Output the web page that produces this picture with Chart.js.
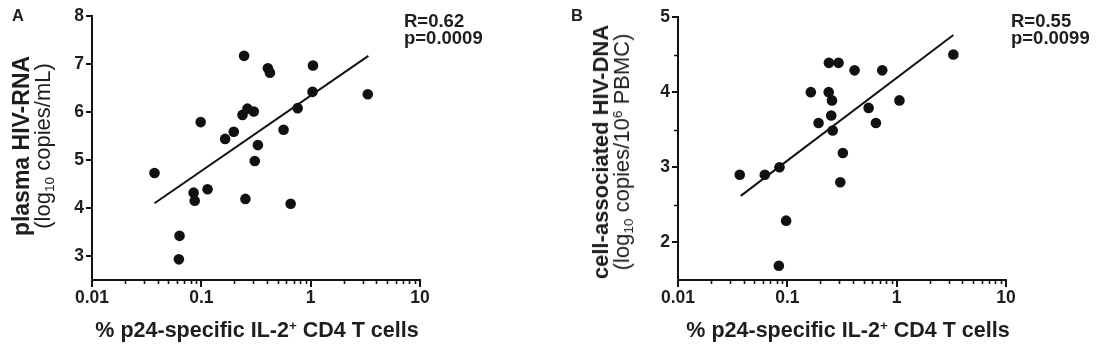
<!DOCTYPE html>
<html>
<head>
<meta charset="utf-8">
<script src="https://cdn.jsdelivr.net/npm/chart.js@4.4.1/dist/chart.umd.min.js"></script>
<style>
  body { margin: 0; background: #fff; width: 1097px; height: 348px; overflow: hidden; position: relative;
         font-family: "Liberation Sans", Arial, sans-serif; color: #1e1e1e; }
  canvas { position: absolute; top: 0; }
  .txt { position: absolute; white-space: nowrap; line-height: 1; font-weight: bold; }
  .stat { font-size: 18.5px; line-height: 16.5px; }
  .xtitle { font-size: 21.5px; transform: translateX(-50%); }
  .ytitle { position: absolute; white-space: nowrap; text-align: center; font-size: 22px; line-height: 21px;
            transform: translate(-50%, -50%) rotate(-90deg); }
  .ytitle b { font-weight: bold; }
  sub { font-size: 0.62em; vertical-align: -0.3em; line-height: 0; }
  sup { font-size: 0.62em; vertical-align: 0.5em; line-height: 0; }
</style>
</head>
<body>
<canvas id="chartA" width="548" height="348" style="left:0"></canvas>
<canvas id="chartB" width="549" height="348" style="left:548px"></canvas>

<div class="txt" style="left:12px;top:7px;font-size:16.5px">A</div>
<div class="txt" style="left:571px;top:7px;font-size:16.5px">B</div>

<div class="txt stat" style="left:404px;top:13px">R=0.62<br>p=0.0009</div>
<div class="txt stat" style="left:1011px;top:13px">R=0.55<br>p=0.0099</div>

<div class="txt xtitle" style="left:257px;top:320px">% p24-specific IL-2<sup>+</sup> CD4 T cells</div>
<div class="txt xtitle" style="left:848px;top:320px">% p24-specific IL-2<sup>+</sup> CD4 T cells</div>

<div class="ytitle" style="left:32px;top:146px"><b style="font-size:23px">plasma HIV-RNA</b><br>(log<sub>10</sub> copies/mL)</div>
<div class="ytitle" style="left:611px;top:152px"><b>cell-associated HIV-DNA</b><br>(log<sub>10</sub> copies/10<sup>6</sup> PBMC)</div>

<script>
// ---- x axis (shared) ----
const xMajorTicks = [0.01, 0.1, 1, 10];
const xMinorTicks = [0.02, 0.03, 0.04, 0.05, 0.06, 0.07, 0.08, 0.09,
                     0.2, 0.3, 0.4, 0.5, 0.6, 0.7, 0.8, 0.9,
                     2, 3, 4, 5, 6, 7, 8, 9];

// ---- panel A: plasma HIV-RNA ----
const plasmaX = [0.0373, 0.0986, 0.165, 0.198, 0.246, 0.238, 0.264, 0.302, 0.329, 0.308, 0.406, 0.424,
                 0.565, 0.760, 1.05, 1.04, 3.33, 0.085, 0.087, 0.114, 0.253, 0.656, 0.0632, 0.0623];
const plasmaY = [4.73, 5.79, 5.44, 5.59, 7.17, 5.94, 6.07, 6.01, 5.31, 4.98, 6.91, 6.82,
                 5.63, 6.08, 6.97, 6.42, 6.37, 4.32, 4.15, 4.39, 4.19, 4.09, 3.42, 2.93];
const plasmaFitX = [0.0373, 3.37];
const plasmaFitY = [4.10, 7.17];
const plasmaYTicks = [3, 4, 5, 6, 7, 8];

// ---- panel B: cell-associated HIV-DNA ----
const dnaX = [0.0367, 0.0622, 0.0848, 0.164, 0.193, 0.240, 0.294, 0.239, 0.256, 0.252, 0.260,
              0.322, 0.412, 0.554, 0.646, 0.738, 1.06, 3.30, 0.305, 0.0975, 0.0836];
const dnaY = [2.90, 2.90, 3.00, 4.00, 3.59, 4.39, 4.39, 4.00, 3.89, 3.69, 3.49,
              3.19, 4.29, 3.79, 3.59, 4.29, 3.89, 4.50, 2.80, 2.29, 1.69];
const dnaFitX = [0.0375, 3.30];
const dnaFitY = [2.62, 4.76];
const dnaYTicks = [2, 3, 4, 5];
const dnaYMinor = [2.5, 3.5, 4.5];

const INK = "#111";
const TEXT = "#1e1e1e";

// short tick marks that Chart.js can't size differently
const minorTicks = {
  id: "minorTicks",
  afterDraw(chart, args, opts) {
    const { ctx } = chart;
    const xs = chart.scales.x, ys = chart.scales.y;
    ctx.save();
    ctx.strokeStyle = INK;
    ctx.lineWidth = 1.6;
    ctx.beginPath();
    (opts.x || []).forEach(v => {
      const px = Math.round(xs.getPixelForValue(v)) + 0.5;
      ctx.moveTo(px, chart.chartArea.bottom);
      ctx.lineTo(px, chart.chartArea.bottom + 4);
    });
    (opts.y || []).forEach(v => {
      const py = Math.round(ys.getPixelForValue(v)) + 0.5;
      ctx.moveTo(chart.chartArea.left, py);
      ctx.lineTo(chart.chartArea.left - 4, py);
    });
    ctx.stroke();
    ctx.restore();
  }
};

function makePanel(id, xs, ys, fitX, fitY, yMin, yMax, yTicks, yMinor, area) {
  const canvas = document.getElementById(id);
  const W = canvas.width, H = canvas.height;
  const tickFont = { family: "Liberation Sans", weight: "bold", size: 17.5 };

  return new Chart(canvas.getContext("2d"), {
    type: "scatter",
    data: {
      datasets: [
        {
          data: xs.map((x, i) => ({ x: x, y: ys[i] })),
          pointRadius: 5.3,
          pointBackgroundColor: INK,
          pointBorderWidth: 0,
          order: 2
        },
        {
          type: "line",
          data: fitX.map((x, i) => ({ x: x, y: fitY[i] })),
          borderColor: INK,
          borderWidth: 2,
          pointRadius: 0,
          fill: false,
          tension: 0,
          order: 1
        }
      ]
    },
    options: {
      responsive: false,
      animation: false,
      events: [],
      layout: { padding: { left: 0, top: area.top, right: W - area.right, bottom: 0 } },
      scales: {
        x: {
          type: "logarithmic",
          min: 0.01,
          max: 10,
          afterBuildTicks: s => { s.ticks = xMajorTicks.map(v => ({ value: v, major: true })); },
          afterFit: s => { s.height = H - area.bottom; },
          ticks: { font: tickFont, color: TEXT, padding: 1, maxRotation: 0, autoSkip: false,
                   callback: v => String(v) },
          grid: { drawOnChartArea: false, drawTicks: true, tickLength: 7, color: INK, lineWidth: 2 },
          border: { display: true, color: INK, width: 2 }
        },
        y: {
          type: "linear",
          min: yMin,
          max: yMax,
          afterBuildTicks: s => { s.ticks = yTicks.map(v => ({ value: v })); },
          afterFit: s => { s.width = area.left; },
          ticks: { font: tickFont, color: TEXT, padding: 2, callback: v => String(v) },
          grid: { drawOnChartArea: false, drawTicks: true, tickLength: 6, color: INK, lineWidth: 2 },
          border: { display: true, color: INK, width: 2 }
        }
      },
      plugins: {
        legend: { display: false },
        tooltip: { enabled: false },
        minorTicks: { x: xMinorTicks, y: yMinor }
      }
    },
    plugins: [minorTicks]
  });
}

makePanel("chartA", plasmaX, plasmaY, plasmaFitX, plasmaFitY, 2.5, 8, plasmaYTicks, [],
          { left: 92, right: 420, top: 16, bottom: 280 });
makePanel("chartB", dnaX, dnaY, dnaFitX, dnaFitY, 1.5, 5, dnaYTicks, dnaYMinor,
          { left: 130, right: 458, top: 17, bottom: 280 });
</script>
</body>
</html>
